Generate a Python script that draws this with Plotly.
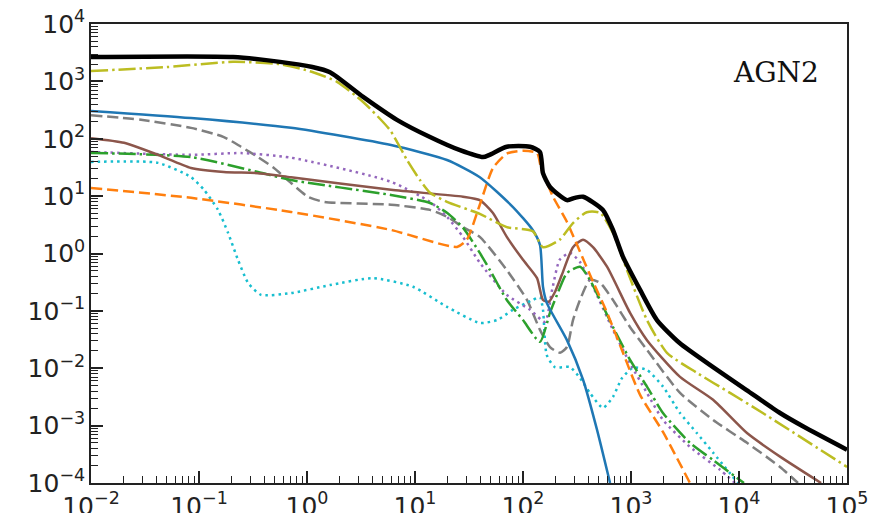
import numpy as np
import plotly.graph_objects as go

# ---- data (log10 of x and y) ----
black_lx = [-2, -0.685, -0.25, 0.05, 0.213, 0.52, 0.833, 1.139, 1.417, 1.63, 1.69, 1.85, 2.065, 2.157, 2.185, 2.25, 2.407, 2.48, 2.556, 2.74, 2.833, 2.926, 3.083, 3.24, 3.45, 3.76, 4.07, 4.38, 4.60, 5.0]
black_ly = [3.425, 3.425, 3.34, 3.25, 3.16, 2.73, 2.33, 2.03, 1.80, 1.68, 1.72, 1.86, 1.86, 1.77, 1.40, 1.16, 0.93, 0.97, 0.99, 0.76, 0.41, -0.06, -0.63, -1.16, -1.56, -1.98, -2.38, -2.78, -3.02, -3.42]

olive_lx = [-2, -1.296, -0.685, -0.25, 0.056, 0.278, 0.52, 0.769, 0.926, 1.046, 1.139, 1.296, 1.60, 1.85, 2.09, 2.185, 2.34, 2.463, 2.59, 2.713, 2.833, 2.963, 3.148, 3.333, 3.61, 3.917, 4.22, 5.0]
olive_ly = [3.18, 3.25, 3.34, 3.30, 3.16, 2.99, 2.64, 2.15, 1.63, 1.28, 1.06, 0.90, 0.69, 0.46, 0.39, 0.11, 0.24, 0.53, 0.72, 0.71, 0.36, -0.29, -1.16, -1.73, -2.08, -2.43, -2.78, -3.72]

blue_lx = [-2, -1.074, -0.148, 0.778, 1.296, 1.60, 1.907, 2.09, 2.157, 2.185, 2.22, 2.407, 2.556, 2.685, 2.806]
blue_ly = [2.484, 2.36, 2.19, 1.89, 1.63, 1.33, 0.81, 0.41, 0.15, -0.58, -0.86, -1.51, -2.20, -3.07, -4.0]

orange_lx = [-2, -1.074, -0.148, 0.778, 1.389, 1.48, 1.60, 1.722, 1.85, 2.0, 2.13, 2.167, 2.278, 2.407, 2.528, 2.648, 2.778, 2.926, 3.083, 3.296, 3.546]
orange_ly = [1.143, 0.97, 0.725, 0.41, 0.115, 0.24, 0.85, 1.49, 1.74, 1.79, 1.75, 1.49, 0.99, 0.55, 0.03, -0.49, -1.03, -1.73, -2.46, -3.11, -4.0]

green_lx = [-2, -1.074, -0.454, -0.148, 0.778, 1.139, 1.296, 1.444, 1.60, 1.694, 1.85, 2.0, 2.157, 2.25, 2.315, 2.407, 2.528, 2.62, 2.713, 2.833, 2.99, 3.148, 3.296, 3.546, 3.76, 4.046]
green_ly = [1.753, 1.68, 1.42, 1.28, 1.02, 0.88, 0.71, 0.45, 0.01, -0.29, -0.81, -1.16, -1.54, -1.03, -0.72, -0.34, -0.23, -0.46, -0.81, -1.28, -1.85, -2.32, -2.78, -3.30, -3.60, -4.0]

purple_lx = [-2, -1.074, -0.611, -0.148, 0.778, 1.139, 1.296, 1.444, 1.60, 1.85, 2.065, 2.204, 2.27, 2.34, 2.435, 2.528, 2.648, 2.833, 2.99, 3.148, 3.296, 3.546, 3.824, 3.963]
purple_ly = [1.77, 1.72, 1.75, 1.67, 1.25, 0.90, 0.64, 0.29, -0.16, -0.72, -0.98, -1.19, -0.63, -0.11, 0.01, -0.15, -0.58, -1.33, -1.91, -2.43, -2.90, -3.37, -3.77, -4.0]

brown_lx = [-2, -1.694, -1.38, -1.074, -0.77, -0.454, -0.148, 0.778, 1.444, 1.60, 1.72, 1.85, 2.0, 2.13, 2.185, 2.24, 2.296, 2.36, 2.463, 2.556, 2.648, 2.778, 2.99, 3.148, 3.454, 3.76, 4.074, 4.38, 4.76]
brown_ly = [2.01, 1.93, 1.72, 1.49, 1.42, 1.40, 1.33, 1.11, 0.99, 0.93, 0.71, 0.29, -0.11, -0.43, -0.81, -0.84, -0.67, -0.37, 0.11, 0.24, 0.11, -0.23, -1.03, -1.51, -2.15, -2.55, -3.13, -3.54, -4.0]

gray_lx = [-2, -1.537, -1.074, -0.77, -0.611, -0.454, -0.306, -0.148, 0.009, 0.157, 0.778, 1.139, 1.296, 1.444, 1.60, 1.85, 2.037, 2.157, 2.25, 2.343, 2.407, 2.463, 2.528, 2.62, 2.713, 2.833, 2.99, 3.148, 3.454, 3.76, 4.074, 4.38, 4.546]
gray_ly = [2.41, 2.33, 2.19, 2.03, 1.86, 1.68, 1.49, 1.23, 0.99, 0.90, 0.85, 0.76, 0.64, 0.46, 0.29, -0.29, -0.81, -1.33, -1.63, -1.73, -1.63, -1.16, -0.81, -0.46, -0.51, -0.81, -1.28, -1.68, -2.43, -2.90, -3.30, -3.72, -4.0]

cyan_lx = [-2, -1.38, -1.074, -0.954, -0.824, -0.731, -0.639, -0.546, -0.426, -0.148, 0.213, 0.611, 0.981, 1.296, 1.60, 1.76, 1.907, 2.09, 2.157, 2.185, 2.22, 2.296, 2.435, 2.528, 2.62, 2.74, 2.833, 2.917, 3.019, 3.148, 3.296, 3.454, 3.61, 3.76, 3.99]
cyan_ly = [1.596, 1.58, 1.33, 1.11, 0.76, 0.36, -0.11, -0.51, -0.72, -0.69, -0.55, -0.43, -0.58, -0.93, -1.21, -1.16, -0.98, -0.81, -0.76, -0.98, -1.77, -1.98, -1.98, -2.17, -2.43, -2.69, -2.50, -2.17, -1.99, -2.03, -2.32, -2.78, -3.13, -3.47, -4.0]

label_text = "AGN2"

series = [
    (gray_lx, gray_ly, "#7f7f7f", "11px,5px", 2.5),
    (cyan_lx, cyan_ly, "#17becf", "2.5px,4px", 2.5),
    (purple_lx, purple_ly, "#9467bd", "2.5px,4px", 2.5),
    (green_lx, green_ly, "#2ca02c", "17px,4px,2.5px,4px", 2.5),
    (brown_lx, brown_ly, "#8c564b", "solid", 2.5),
    (orange_lx, orange_ly, "#ff7f0e", "11px,5px", 2.5),
    (blue_lx, blue_ly, "#1f77b4", "solid", 2.5),
    (olive_lx, olive_ly, "#bcbd22", "17px,4px,2.5px,4px", 2.5),
    (black_lx, black_ly, "#000000", "solid", 4.5),
]

fig = go.Figure()
for lx, ly, col, dash, w in series:
    fig.add_trace(go.Scatter(
        x=10 ** np.array(lx), y=10 ** np.array(ly), mode="lines",
        line=dict(color=col, width=w, dash=dash, shape="spline", smoothing=0.6),
        showlegend=False, hoverinfo="skip"))

def minor_vals(k0, k1):
    return [m * 10.0 ** k for k in range(k0, k1) for m in range(2, 10)]

xt = [10.0 ** k for k in range(-2, 6)]
yt = [10.0 ** k for k in range(-4, 5)]
xtt = ["10<sup>%s</sup>" % (str(k).replace("-", "\u2212")) for k in range(-2, 6)]
ytt = ["10<sup>%s</sup>" % (str(k).replace("-", "\u2212")) for k in range(-4, 5)]

font = dict(family="DejaVu Sans", size=25, color="#222222")
axis_common = dict(
    type="log", showgrid=False, zeroline=False, automargin=False,
    showline=True, linecolor="#222222", linewidth=1.6, mirror=True,
    ticks="inside", ticklen=12, tickwidth=1.6, tickcolor="#222222",
    tickfont=font, tickmode="array",
)
fig.update_xaxes(**axis_common, range=[-2, 5], tickvals=xt, ticktext=xtt,
                 ticklabelstandoff=0,
                 minor=dict(tickmode="array", tickvals=minor_vals(-2, 5), ticks="inside",
                            ticklen=7, tickwidth=1.2, tickcolor="#222222", showgrid=False))
fig.update_yaxes(**axis_common, range=[-4, 4], tickvals=yt, ticktext=ytt,
                 ticklabelstandoff=-1,
                 minor=dict(tickmode="array", tickvals=minor_vals(-4, 4), ticks="inside",
                            ticklen=7, tickwidth=1.2, tickcolor="#222222", showgrid=False))

fig.add_annotation(text=label_text, xref="paper", yref="paper", x=0.966, y=0.894,
                   xanchor="right", yanchor="middle", showarrow=False,
                   font=dict(family="DejaVu Serif", size=28, color="#111111"))

fig.update_layout(width=871, height=513, margin=dict(l=91, r=24, t=24, b=30),
                  plot_bgcolor="white", paper_bgcolor="white")
fig.write_html("out.html")
